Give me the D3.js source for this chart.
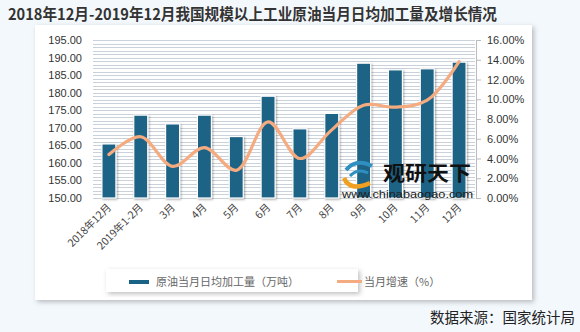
<!DOCTYPE html>
<html><head><meta charset="utf-8">
<script src="https://cdn.jsdelivr.net/npm/d3@7"></script>
<style>
html,body{margin:0;padding:0;background:#f3f8fd;}
svg{display:block;font-family:"Noto Sans CJK SC","Noto Sans",sans-serif;}
</style></head>
<body>
<svg id="c" width="580" height="332"></svg>
<script>
const categories = ["2018年12月","2019年1-2月","3月","4月","5月","6月","7月","8月","9月","10月","11月","12月"];
const output = [165.4, 173.6, 171.1, 173.6, 167.5, 179.0, 169.7, 174.1, 188.4, 186.5, 186.8, 188.7];
const growth = [4.4, 6.2, 3.2, 5.1, 2.8, 7.7, 4.0, 6.9, 9.4, 9.2, 9.9, 13.8];
const leftTicks = [150,155,160,165,170,175,180,185,190,195];
const rightTicks = [0,2,4,6,8,10,12,14,16];

const svg = d3.select("#c");
const defs = svg.append("defs");
const f = defs.append("filter").attr("id","sh").attr("x","-10%").attr("y","-10%").attr("width","130%").attr("height","130%");
f.append("feDropShadow").attr("dx",2).attr("dy",2).attr("stdDeviation",2.5).attr("flood-color","#000").attr("flood-opacity",0.25);
const fb = defs.append("filter").attr("id","bsh").attr("x","-40%").attr("y","-10%").attr("width","180%").attr("height","130%");
fb.append("feDropShadow").attr("dx",1).attr("dy",1).attr("stdDeviation",1.2).attr("flood-color","#000").attr("flood-opacity",0.35);

// title
svg.append("text").attr("x",8).attr("y",20).attr("font-size",15.5).attr("font-weight","bold").attr("fill","#333")
  .attr("textLength",489).attr("lengthAdjust","spacingAndGlyphs")
  .text("2018年12月-2019年12月我国规模以上工业原油当月日均加工量及增长情况");

// panel
svg.append("rect").attr("x",35).attr("y",25).attr("width",497).attr("height",275).attr("fill","#fff").attr("filter","url(#sh)");

const x0 = 93, x1 = 475, yTop = 40, yBot = 198;
const x = d3.scaleBand().domain(categories).range([x0,x1]).paddingInner(0.56).paddingOuter(0.28);
const yL = d3.scaleLinear().domain([150,195]).range([yBot,yTop]);
const yR = d3.scaleLinear().domain([0,16]).range([yBot,yTop]);

// dense gridlines
const g = svg.append("g");
g.selectAll("line.grid").data(d3.range(150,196,1)).join("line")
  .attr("x1",x0).attr("x2",x1).attr("y1",d=>Math.round(yL(d))+0.5).attr("y2",d=>Math.round(yL(d))+0.5)
  .attr("stroke","#c9d2db").attr("stroke-width",1);

// left axis
const la = svg.append("g").attr("transform",`translate(${x0},0)`)
  .call(d3.axisLeft(yL).tickValues(leftTicks).tickFormat(d3.format(".2f")).tickSize(0).tickPadding(11));
la.select(".domain").remove();
la.selectAll("text").attr("font-size",11).attr("fill","#333").attr("font-family","Liberation Sans, Arial, sans-serif");

// right axis
const ra = svg.append("g").attr("transform",`translate(${x1+1},0)`)
  .call(d3.axisRight(yR).tickValues(rightTicks).tickFormat(d=>d3.format(".2f")(d)+"%").tickSize(5).tickPadding(6));
ra.select(".domain").attr("stroke","#bbb");
ra.selectAll(".tick line").attr("stroke","#bbb");
ra.selectAll("text").attr("font-size",11).attr("fill","#333").attr("font-family","Liberation Sans, Arial, sans-serif");

// bars
svg.append("g").selectAll("rect").data(output).join("rect")
  .attr("x",(d,i)=>x(categories[i])).attr("width",x.bandwidth())
  .attr("y",d=>yL(d)).attr("height",d=>yBot-yL(d))
  .attr("fill","#1b6386").attr("stroke","#fff").attr("stroke-width",1.2).attr("filter","url(#bsh)");

// watermark
const wm = svg.append("g");
wm.append("path").attr("d","M346,170 Q356,158 372,166").attr("fill","none").attr("stroke","#2f8fc0").attr("stroke-width",4);
wm.append("path").attr("d","M350,176 Q358,168 368,173").attr("fill","none").attr("stroke","#2f8fc0").attr("stroke-width",3);
wm.append("path").attr("d","M344,178 Q350,192 370,183").attr("fill","none").attr("stroke","#f0a020").attr("stroke-width",4.5);
wm.append("text").attr("x",383).attr("y",181).attr("font-size",20).attr("font-weight","bold").attr("fill","#111")
  .attr("textLength",88).attr("lengthAdjust","spacingAndGlyphs").text("观研天下");
wm.append("text").attr("x",342).attr("y",198).attr("font-size",11).attr("fill","#222").attr("font-family","Liberation Sans, Arial, sans-serif")
  .attr("textLength",131).attr("lengthAdjust","spacingAndGlyphs").text("www.chinabaogao.com");

// line
const line = d3.line().x((d,i)=>x(categories[i])+x.bandwidth()/2).y(d=>yR(d)).curve(d3.curveCatmullRom.alpha(0.5));
svg.append("path").datum(growth).attr("d",line).attr("fill","none").attr("stroke","#f5ab80").attr("stroke-width",3.2).attr("stroke-linecap","round");

// x labels
svg.append("g").selectAll("text").data(categories).join("text")
  .attr("transform",(d)=>`translate(${x(d)+x.bandwidth()/2+3},${208}) rotate(-45)`)
  .attr("text-anchor","end").attr("font-size",10.5).attr("fill","#444").text(d=>d);

// legend
svg.append("rect").attr("x",106).attr("y",269).attr("width",252).attr("height",23).attr("fill","#fff").attr("filter","url(#sh)");
svg.append("rect").attr("x",129).attr("y",280).attr("width",20).attr("height",4).attr("fill","#1b6386");
svg.append("text").attr("x",156).attr("y",286).attr("font-size",11).attr("fill","#666").text("原油当月日均加工量（万吨）");
svg.append("rect").attr("x",337).attr("y",280).attr("width",25).attr("height",3).attr("fill","#f5ab80");
svg.append("text").attr("x",364).attr("y",286).attr("font-size",11).attr("fill","#666").text("当月增速（%）");

// source
svg.append("text").attr("x",575).attr("y",323).attr("text-anchor","end").attr("font-size",14.5).attr("fill","#222").text("数据来源：国家统计局");
</script>
</body></html>
